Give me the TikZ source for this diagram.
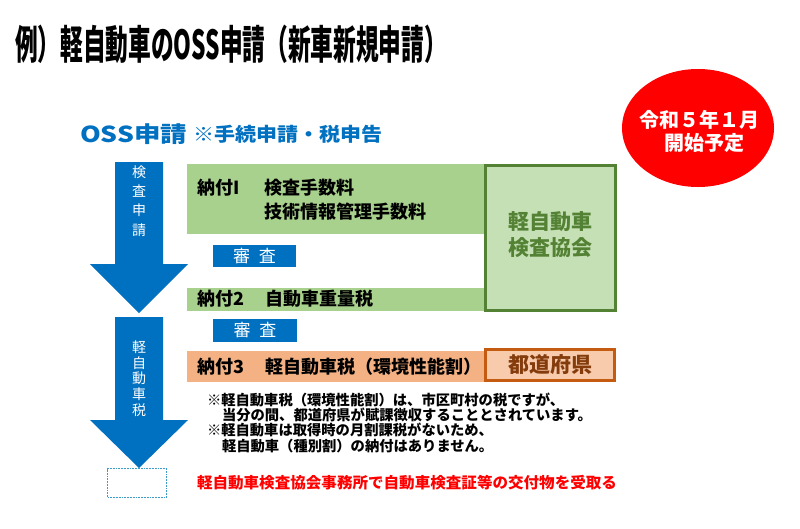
\documentclass[tikz,border=0pt]{standalone}
\usepackage{fontspec}
\usepackage{graphicx}
\usetikzlibrary{shapes.geometric}
\newfontfamily\jp{Noto Sans CJK JP}
\definecolor{arrowblue}{RGB}{0,112,192}
\definecolor{bandgreen}{HTML}{A9D18E}
\definecolor{boxgreen}{HTML}{C5E0B4}
\definecolor{darkgreen}{HTML}{548235}
\definecolor{bandorange}{HTML}{F4B183}
\definecolor{boxorange}{HTML}{F8CBAD}
\definecolor{darkorange}{HTML}{C55A11}
\definecolor{brownish}{HTML}{843C0C}
\definecolor{dotblue}{HTML}{3C9CC8}
\newcommand{\fsz}[1]{\fontsize{#1}{#1}\selectfont}
\newcommand{\fszb}[2]{\fontsize{#1}{#2}\selectfont}
\begin{document}
\begin{tikzpicture}[x=1pt,y=-1pt,
  every node/.style={font=\jp, inner sep=0pt, outer sep=0pt},
  band/.style={anchor=north west, draw=none},
  reviewbox/.style={anchor=north west, fill=arrowblue, text=white, font=\jp\fsz{17}},
  bandlabel/.style={anchor=west, font=\jp\bfseries\fsz{18}},
  notetext/.style={anchor=west, font=\jp\bfseries\fsz{14.3}},
  arrowtext/.style={text=white, align=center},
  bigarrow/.style={fill=arrowblue}
]
\useasboundingbox (0,0) rectangle (800,528);
\fill[white] (0,0) rectangle (800,528);

% title
\node[anchor=west] (title) at (15,44) {\resizebox{432pt}{\height}{\fsz{40}\bfseries 例）軽自動車のOSS申請（新車新規申請）}};

% OSS heading
\node[anchor=west, text=arrowblue] (oss) at (80,134) {\resizebox{107pt}{\height}{\fsz{22}\bfseries OSS申請}};
\node[anchor=west, text=arrowblue] (ossnote) at (193,134) {\resizebox{189pt}{\height}{\fsz{19}\bfseries ※手続申請・税申告}};

% badge
\node[ellipse, fill=red, minimum width=152pt, minimum height=118pt] (badge) at (698,128) {};
\node[text=white, font=\jp\bfseries\fsz{20}] (badge1) at (699,120) {令和５年１月};
\node[text=white, font=\jp\bfseries\fsz{20}] (badge2) at (704,143) {開始予定};

% arrows
\fill[bigarrow] (115,162) -- (163,162) -- (163,264) -- (188,264) -- (139,313) -- (90,264) -- (115,264) -- cycle;
\fill[bigarrow] (115,317) -- (163,317) -- (163,420) -- (188,420) -- (139,468) -- (90,420) -- (115,420) -- cycle;
\node[arrowtext, font=\jp\fszb{14}{19.3}] (a1text) at (139,201) {検\\査\\申\\請};
\node[arrowtext, font=\jp\fszb{14}{15.7}] (a2text) at (139,378.5) {軽\\自\\動\\車\\税};
\node[draw=dotblue, densely dotted, line width=1.8pt, minimum width=59pt, minimum height=29pt, anchor=north west] (endbox) at (107.5,468.5) {};

% bands
\node[band, fill=bandgreen, minimum width=297pt, minimum height=70pt] (band1) at (187,164) {};
\node[band, fill=bandgreen, minimum width=297pt, minimum height=23pt] (band2) at (187,288) {};
\node[band, fill=bandorange, minimum width=297pt, minimum height=31pt] (band3) at (187,351) {};

\node[bandlabel] (b1l) at (197,188) {納付I};
\node[bandlabel] (b1a) at (264,188) {検査手数料};
\node[bandlabel] (b1b) at (264,212) {技術情報管理手数料};
\node[bandlabel] (b2l) at (197,299) {納付2};
\node[bandlabel] (b2a) at (265,299) {自動車重量税};
\node[bandlabel] (b3l) at (197,367) {納付3};
\node[bandlabel] (b3a) at (265,367) {軽自動車税（環境性能割）};

% review boxes
\node[reviewbox, minimum width=83pt, minimum height=22pt] (rev1) at (213,245) {};
\node[text=white, font=\jp\fsz{17}] (rev1t) at (rev1.center) {審\hspace{9pt}査};
\node[reviewbox, minimum width=84pt, minimum height=23pt] (rev2) at (213,319) {};
\node[text=white, font=\jp\fsz{17}] (rev2t) at (rev2.center) {審\hspace{9pt}査};

% right boxes
\node[anchor=north west, fill=boxgreen, draw=darkgreen, line width=3pt, minimum width=130pt, minimum height=145pt] (kei) at (485.5,165.5) {};
\node[text=darkgreen, font=\jp\bfseries\fsz{21}] (keit1) at (550,222) {軽自動車};
\node[text=darkgreen, font=\jp\bfseries\fsz{21}] (keit2) at (550,248) {検査協会};

\node[anchor=north west, fill=boxorange, draw=darkorange, line width=3pt, minimum width=129pt, minimum height=31pt] (pref) at (485.5,349.5) {};
\node[text=brownish, font=\jp\bfseries\fsz{21}] (preft) at (pref.center) {都道府県};

% notes
\node[notetext] (n1) at (207,400) {※軽自動車税（環境性能割）は、市区町村の税ですが、};
\node[notetext] (n2) at (222,415) {当分の間、都道府県が賦課徴収することとされています。};
\node[notetext] (n3) at (207,430) {※軽自動車は取得時の月割課税がないため、};
\node[notetext] (n4) at (222,446) {軽自動車（種別割）の納付はありません。};

\node[anchor=west, text=red] (redline) at (197,483) {\resizebox{420pt}{\height}{\fsz{15.3}\bfseries 軽自動車検査協会事務所で自動車検査証等の交付物を受取る}};
\end{tikzpicture}
\end{document}
